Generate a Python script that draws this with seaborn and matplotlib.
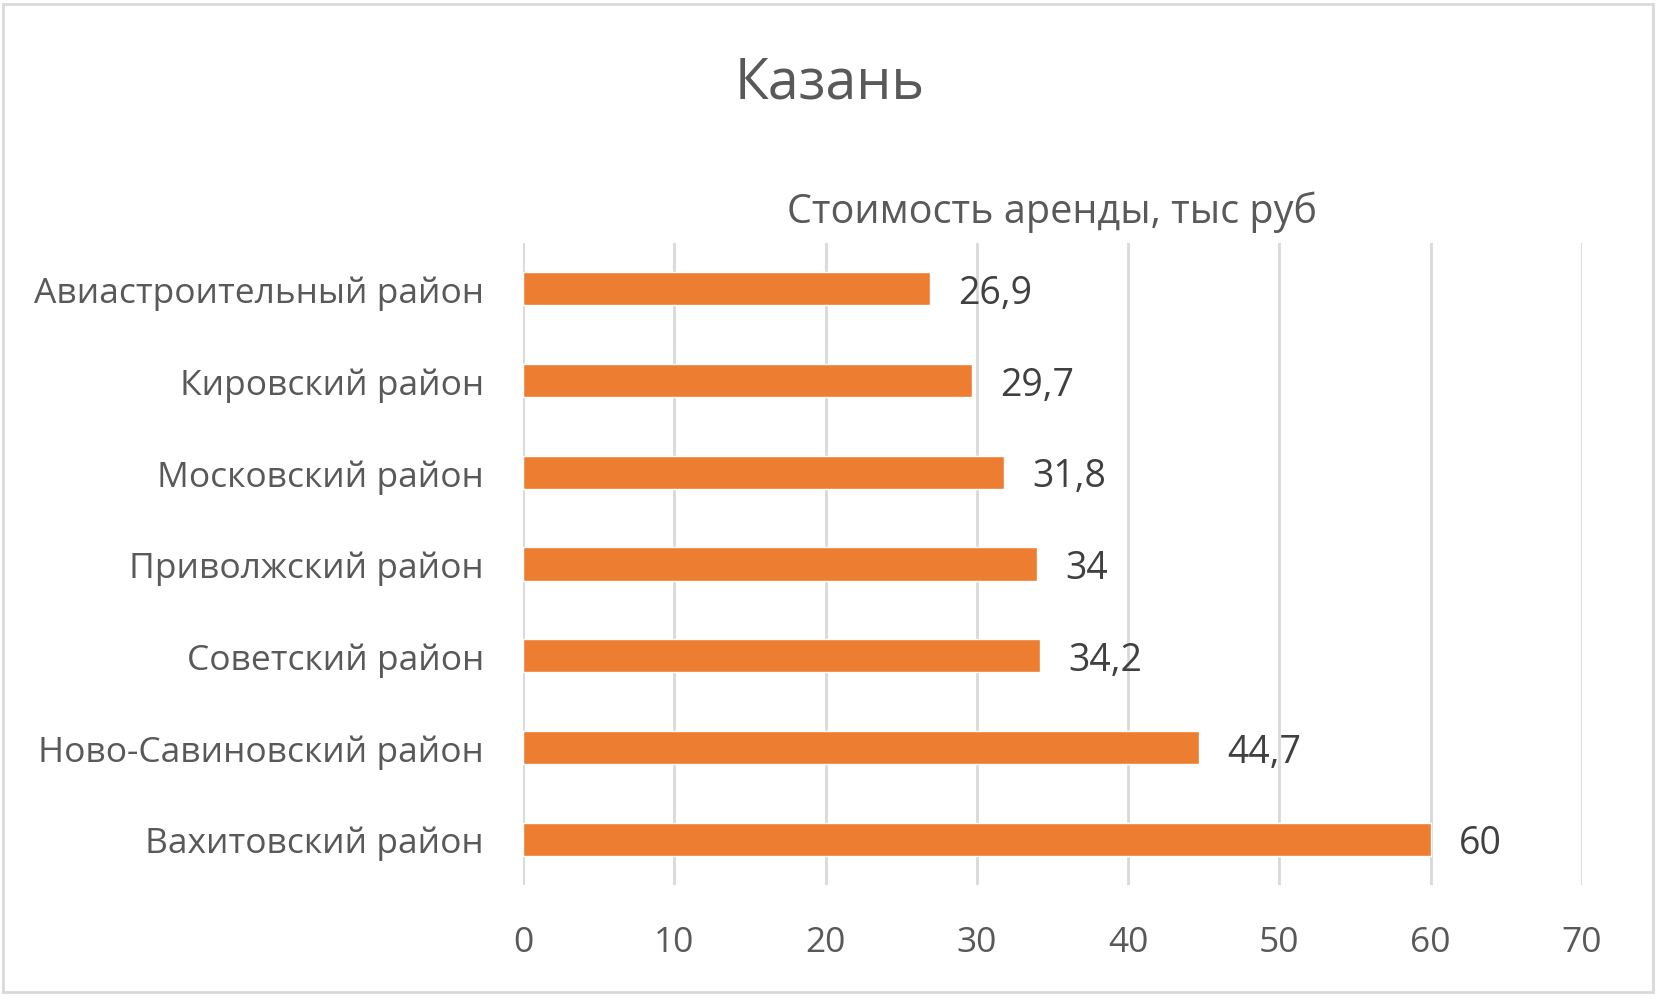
import matplotlib
matplotlib.use("Agg")
import matplotlib.pyplot as plt
import seaborn as sns
import pandas as pd
from matplotlib.patches import Rectangle

districts = ["Авиастроительный район", "Кировский район", "Московский район",
             "Приволжский район", "Советский район", "Ново-Савиновский район",
             "Вахитовский район"]
rent = [26.9, 29.7, 31.8, 34, 34.2, 44.7, 60]
value_labels = ["26,9", "29,7", "31,8", "34", "34,2", "44,7", "60"]
x_ticks = [0, 10, 20, 30, 40, 50, 60, 70]

title = "Казань"
subtitle = "Стоимость аренды, тыс руб"

sns.set_style("white")
plt.rcParams['font.family'] = ['Open Sans', 'DejaVu Sans']

df = pd.DataFrame({"district": districts, "rent": rent})

W, H = 1663, 1003
fig = plt.figure(figsize=(W / 100, H / 100), dpi=100)
ax = fig.add_axes([523 / W, 1 - 886 / H, (1582 - 523) / W, (886 - 244) / H])

sns.barplot(data=df, y="district", x="rent", orient="h", color="#ED7D31",
            saturation=1, width=0.36, ax=ax, order=districts)

ax.set_xlim(0, 70)
ax.set_ylim(6.5, -0.5)
ax.set_xticks(x_ticks)
ax.set_xticklabels([str(t) for t in x_ticks])
ax.grid(axis="x", color="#D9D9D9", linewidth=2)
ax.grid(axis="y", visible=False)
ax.set_axisbelow(True)
for s in ax.spines.values():
    s.set_visible(False)
ax.set_xlabel("")
ax.set_ylabel("")
ax.tick_params(axis="y", length=0, pad=28, labelsize=25.5, labelcolor="#595959")
ax.tick_params(axis="x", length=0, pad=29, labelsize=25.5, labelcolor="#595959")

for container in ax.containers:
    texts = ax.bar_label(container, labels=value_labels, padding=20,
                         fontsize=27, color="#404040")
    for t in texts:
        t.xyann = (20, -3)

fig.text(830 / W, 1 - 84 / H, title, ha="center", va="center",
         fontsize=40, color="#595959")
fig.text(1052 / W, 1 - 212 / H, subtitle, ha="center", va="center",
         fontsize=28.5, color="#595959")

fig.patches.append(Rectangle((3 / W, 1 - 993 / H), 1650 / W, 988 / H,
                             transform=fig.transFigure, fill=False,
                             edgecolor="#D9D9D9", linewidth=2))

fig.savefig("out.png", dpi=100)
